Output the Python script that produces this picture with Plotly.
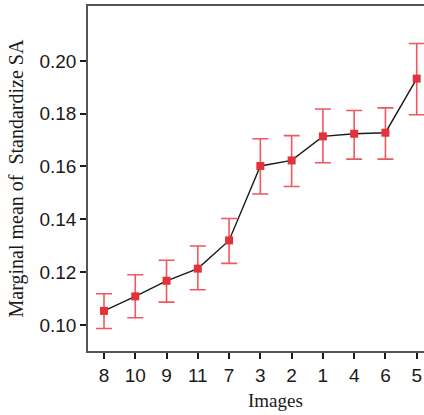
import plotly.graph_objects as go

# Marginal means of standardized SA per image, with asymmetric confidence bounds
images = ["8", "10", "9", "11", "7", "3", "2", "1", "4", "6", "5"]
means = [0.1053, 0.1108, 0.1167, 0.1213, 0.1320, 0.1602, 0.1623, 0.1714, 0.1724, 0.1728, 0.1933]
upper = [0.1118, 0.1190, 0.1245, 0.1299, 0.1403, 0.1705, 0.1717, 0.1818, 0.1812, 0.1822, 0.2066]
lower = [0.0986, 0.1027, 0.1086, 0.1133, 0.1233, 0.1496, 0.1524, 0.1614, 0.1628, 0.1628, 0.1796]

y_ticks = [0.10, 0.12, 0.14, 0.16, 0.18, 0.20]
y_tick_text = ["0.10", "0.12", "0.14", "0.16", "0.18", "0.20"]

x_idx = list(range(len(images)))
err_plus = [u - m for u, m in zip(upper, means)]
err_minus = [m - l for m, l in zip(means, lower)]

fig = go.Figure()

# connecting line
fig.add_trace(go.Scatter(
    x=x_idx, y=means, mode="lines",
    line=dict(color="#1a1a1a", width=1.4),
    hoverinfo="skip", showlegend=False,
))

# markers with error bars
fig.add_trace(go.Scatter(
    x=x_idx, y=means, mode="markers",
    marker=dict(symbol="square", size=8, color="#e2323c"),
    error_y=dict(type="data", symmetric=False, array=err_plus, arrayminus=err_minus,
                 color="rgba(236,70,78,0.9)", thickness=1.6, width=8),
    showlegend=False,
))

fig.update_layout(
    width=424, height=415,
    margin=dict(l=88, r=0, t=6, b=64),
    paper_bgcolor="white", plot_bgcolor="white",
    font=dict(family="Liberation Sans, Arial, sans-serif", size=19, color="#1a1a1a"),
    xaxis=dict(
        range=[-0.512, 10.233],
        tickmode="array", tickvals=x_idx, ticktext=images,
        showgrid=False, zeroline=False,
        showline=True, linecolor="#555555", linewidth=1.5, mirror=True,
        ticks="outside", ticklen=6, tickwidth=2.2, tickcolor="#1a1a1a",
        tickfont=dict(size=19),
    ),
    yaxis=dict(
        range=[0.0901, 0.2208],
        tickmode="array", tickvals=y_ticks, ticktext=y_tick_text,
        showgrid=False, zeroline=False,
        showline=True, linecolor="#555555", linewidth=1.5,
        ticks="outside", ticklen=6, tickwidth=2.2, tickcolor="#1a1a1a",
        tickfont=dict(size=19),
    ),
    annotations=[
        dict(text="Images", xref="paper", yref="paper",
             x=(275 - 88) / 336, y=(351 - 400) / 345,
             xanchor="center", yanchor="middle", showarrow=False,
             font=dict(family="Liberation Serif, Times New Roman, serif", size=19, color="#1a1a1a")),
        dict(text="Marginal mean of  Standardize SA", xref="paper", yref="paper",
             x=(16 - 88) / 336, y=0.5, textangle=-90,
             xanchor="center", yanchor="middle", showarrow=False,
             font=dict(family="Liberation Serif, Times New Roman, serif", size=20, color="#1a1a1a")),
    ],
)

fig.write_html("out.html")
